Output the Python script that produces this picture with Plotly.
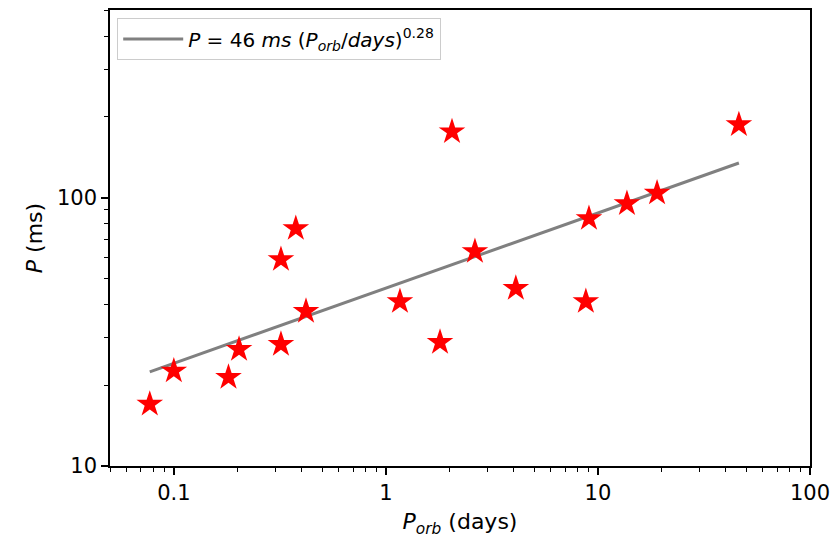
import numpy as np
import plotly.graph_objects as go

# Data
porb_days = [0.077, 0.100, 0.181, 0.203, 0.320, 0.320, 0.376, 0.420, 1.165, 1.80,
             2.05, 2.63, 4.10, 8.77, 9.07, 13.7, 19.0, 46.2]
period_ms = [17.0, 22.6, 21.4, 27.2, 58.8, 28.4, 76.7, 37.7, 41.0, 28.9,
             176.0, 63.0, 45.9, 41.0, 83.6, 95.0, 104.0, 187.0]

fit_amp = 46.0
fit_index = 0.28

x_tickvals = [0.1, 1, 10, 100]
x_ticktext = ["0.1", "1", "10", "100"]
y_tickvals = [10, 100]
y_ticktext = ["10", "100"]

x_minor = [k * 10.0 ** e for e in range(-2, 2) for k in range(2, 10)]
y_minor = [k * 10.0 ** e for e in range(1, 3) for k in range(2, 10)]

fit_x = np.array(porb_days)
fit_y = fit_amp * fit_x ** fit_index

font_family = "DejaVu Sans"

fig = go.Figure()
fig.add_trace(go.Scatter(
    x=fit_x, y=fit_y, mode="lines",
    line=dict(color="#808080", width=3),
    name="<i>P</i> = 46 <i>ms</i> (<i>P</i><sub><i>orb</i></sub>/<i>days</i>)<sup>0.28</sup>",
))
fig.add_trace(go.Scatter(
    x=porb_days, y=period_ms, mode="markers",
    marker=dict(symbol="star", size=20, color="red", line=dict(width=0)),
    showlegend=False,
))

axis_common = dict(
    type="log", showgrid=False, zeroline=False,
    showline=True, linecolor="black", linewidth=1.5, mirror=True,
    ticks="outside", ticklen=7, tickwidth=1.5, tickcolor="black",
    tickfont=dict(family=font_family, size=21, color="black"),
)

fig.update_xaxes(
    **axis_common,
    range=[np.log10(0.05), np.log10(100)],
    tickvals=x_tickvals, ticktext=x_ticktext,
    minor=dict(tickvals=x_minor, ticks="outside", ticklen=4, tickwidth=1.2, tickcolor="black"),
    title=dict(text="<i>P</i><sub><i>orb</i></sub> (days)",
               font=dict(family=font_family, size=22, color="black"), standoff=10),
)
fig.update_yaxes(
    **axis_common,
    range=[1, np.log10(500)],
    tickvals=y_tickvals, ticktext=y_ticktext,
    minor=dict(tickvals=y_minor, ticks="outside", ticklen=4, tickwidth=1.2, tickcolor="black"),
    title=dict(text="<i>P</i> (ms)",
               font=dict(family=font_family, size=22, color="black"), standoff=8),
)

fig.update_layout(
    width=840, height=540,
    margin=dict(l=110, r=30, t=8, b=74),
    plot_bgcolor="white", paper_bgcolor="white",
    font=dict(family=font_family, color="black"),
    legend=dict(
        x=0.01, y=0.982, xanchor="left", yanchor="top",
        bgcolor="white", bordercolor="#cccccc", borderwidth=1.2,
        font=dict(family=font_family, size=20, color="black"),
        itemwidth=60,
    ),
)

fig.write_html("out.html")
